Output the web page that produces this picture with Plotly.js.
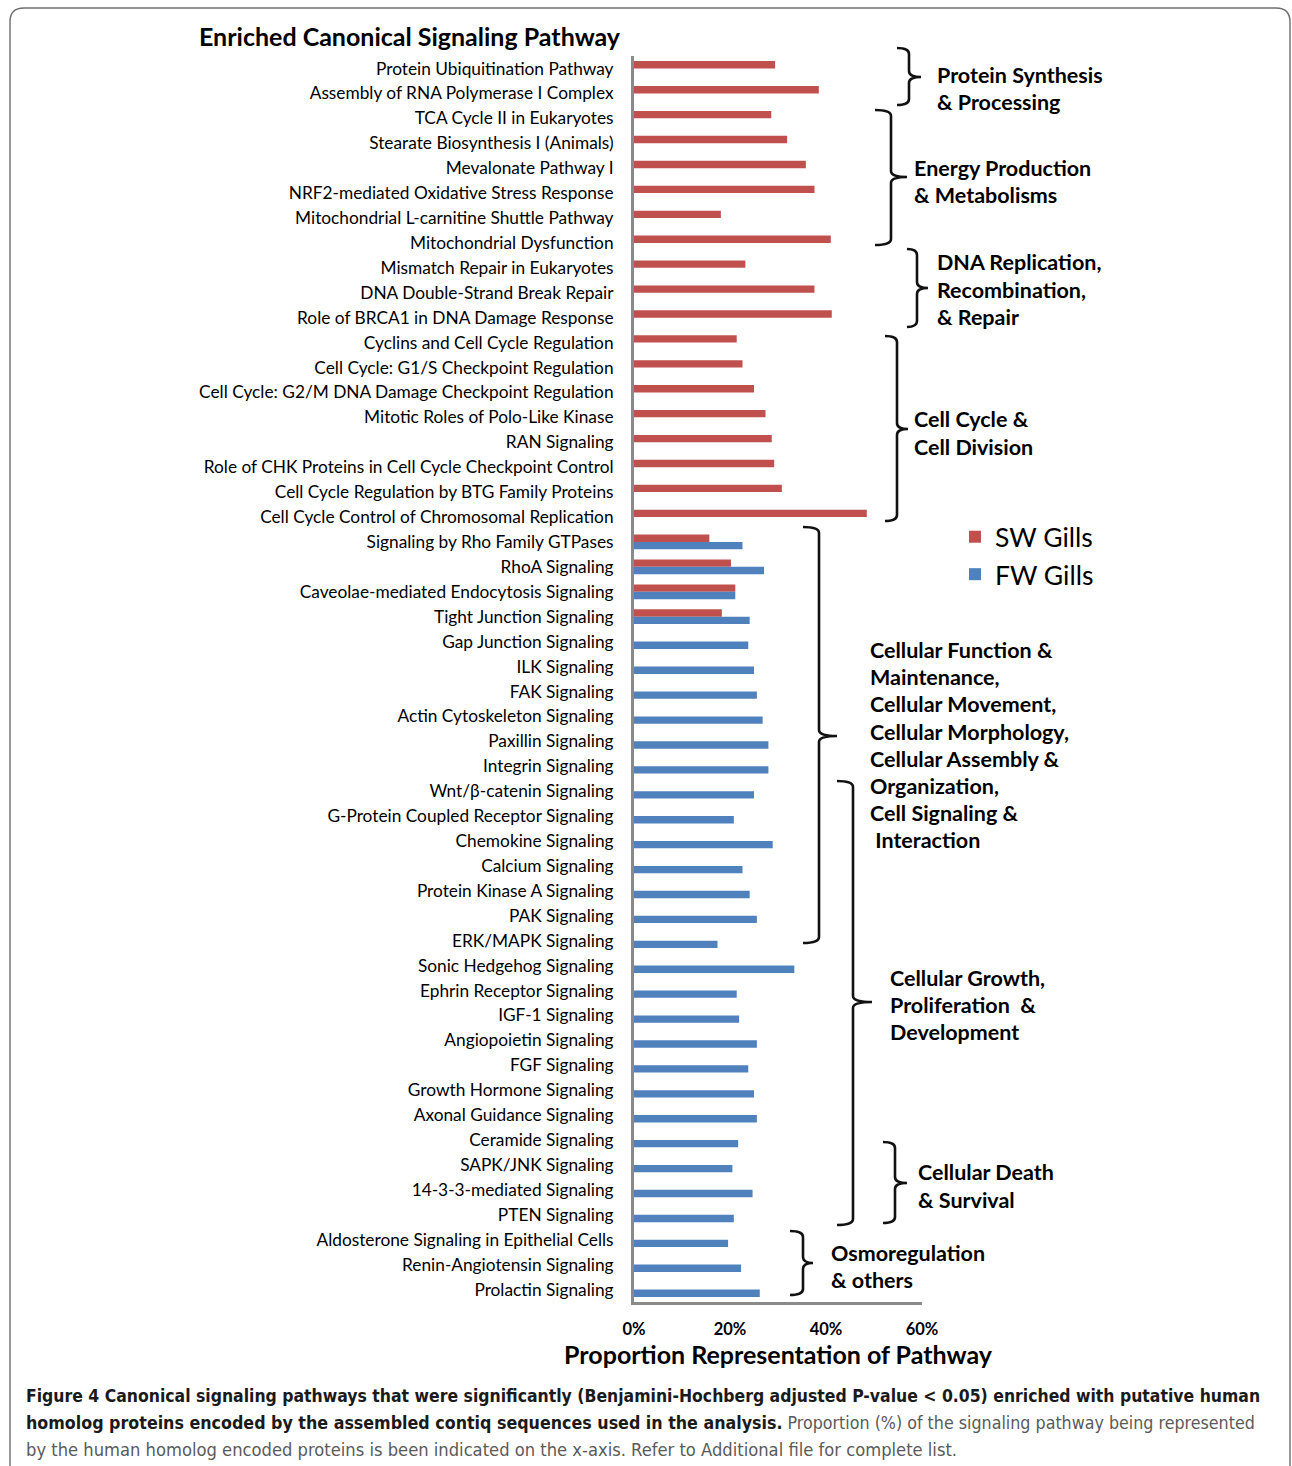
<!DOCTYPE html>
<html>
<head>
<meta charset="utf-8">
<script src="https://cdn.plot.ly/plotly-3.0.1.min.js"></script>
<style>
html,body{margin:0;padding:0;background:#fff;}
#chart{width:1292px;height:1466px;}
</style>
</head>
<body>
<div id="chart"></div>
<script>
// ---------------- DATA ----------------
const pathways = [
  "Protein Ubiquitination Pathway",
  "Assembly of RNA Polymerase I Complex",
  "TCA Cycle II in Eukaryotes",
  "Stearate Biosynthesis I (Animals)",
  "Mevalonate Pathway I",
  "NRF2-mediated Oxidative Stress Response",
  "Mitochondrial L-carnitine Shuttle Pathway",
  "Mitochondrial Dysfunction",
  "Mismatch Repair in Eukaryotes",
  "DNA Double-Strand Break Repair",
  "Role of BRCA1 in DNA Damage Response",
  "Cyclins and Cell Cycle Regulation",
  "Cell Cycle: G1/S Checkpoint Regulation",
  "Cell Cycle: G2/M DNA Damage Checkpoint Regulation",
  "Mitotic Roles of Polo-Like Kinase",
  "RAN Signaling",
  "Role of CHK Proteins in Cell Cycle Checkpoint Control",
  "Cell Cycle Regulation by BTG Family Proteins",
  "Cell Cycle Control of Chromosomal Replication",
  "Signaling by Rho Family GTPases",
  "RhoA Signaling",
  "Caveolae-mediated Endocytosis Signaling",
  "Tight Junction Signaling",
  "Gap Junction Signaling",
  "ILK Signaling",
  "FAK Signaling",
  "Actin Cytoskeleton Signaling",
  "Paxillin Signaling",
  "Integrin Signaling",
  "Wnt/β-catenin Signaling",
  "G-Protein Coupled Receptor Signaling",
  "Chemokine Signaling",
  "Calcium Signaling",
  "Protein Kinase A Signaling",
  "PAK Signaling",
  "ERK/MAPK Signaling",
  "Sonic Hedgehog Signaling",
  "Ephrin Receptor Signaling",
  "IGF-1 Signaling",
  "Angiopoietin Signaling",
  "FGF Signaling",
  "Growth Hormone Signaling",
  "Axonal Guidance Signaling",
  "Ceramide Signaling",
  "SAPK/JNK Signaling",
  "14-3-3-mediated Signaling",
  "PTEN Signaling",
  "Aldosterone Signaling in Epithelial Cells",
  "Renin-Angiotensin Signaling",
  "Prolactin Signaling"
];

// SW Gills (%), null where no bar
const swGills = [
  29.4, 38.5, 28.6, 31.9, 35.8, 37.6, 18.1, 41.0, 23.2, 37.6,
  41.2, 21.4, 22.6, 25.0, 27.4, 28.7, 29.2, 30.8, 48.5, 15.7,
  20.2, 21.1, 18.3, null, null, null, null, null, null, null,
  null, null, null, null, null, null, null, null, null, null,
  null, null, null, null, null, null, null, null, null, null
];

// FW Gills (%), null where no bar
const fwGills = [
  null, null, null, null, null, null, null, null, null, null,
  null, null, null, null, null, null, null, null, null, 22.6,
  27.1, 21.1, 24.1, 23.8, 25.0, 25.6, 26.8, 28.0, 28.0, 25.0,
  20.8, 28.9, 22.6, 24.1, 25.6, 17.4, 33.4, 21.4, 21.9, 25.6,
  23.8, 25.0, 25.6, 21.7, 20.5, 24.7, 20.8, 19.6, 22.3, 26.2
];

const seriesNames = ["SW Gills", "FW Gills"];
const xTickValues = [0, 20, 40, 60];
const xTickLabels = ["0%", "20%", "40%", "60%"];

const groupLabels = [
  ["Protein Synthesis", "& Processing"],
  ["Energy Production", "& Metabolisms"],
  ["DNA Replication,", "Recombination,", "& Repair"],
  ["Cell Cycle &", "Cell Division"],
  ["Cellular Function &", "Maintenance,", "Cellular Movement,", "Cellular Morphology,",
   "Cellular Assembly &", "Organization,", "Cell Signaling &", " Interaction"],
  ["Cellular Growth,", "Proliferation  &", "Development"],
  ["Cellular Death", "& Survival"],
  ["Osmoregulation", "& others"]
];

// ---------------- LAYOUT HELPERS (pixel -> paper) ----------------
const L = 634, R = 922, T = 56, B = 1302;
const W = 1292, H = 1466;
const PX = p => (p - L) / (R - L);
const PY = p => (B - p) / (B - T);

// brace geometry (pixels): [hookX, vertX, tipX, top, tipY, bottom]
const braces = [
  [897, 909, 921, 48, 77, 105],
  [875, 891, 907, 110, 177, 245],
  [907, 917, 928, 249, 288, 327],
  [885, 897, 908, 336, 429, 521],
  [803, 819, 837, 527, 736, 943],
  [837, 853, 872, 781, 1002, 1225],
  [883, 895, 907, 1142, 1183, 1223],
  [790, 803, 813, 1231, 1263, 1295]
];
// label placement (pixels): [x, first line y, line step]
const labelPos = [
  [935, 75, 27],
  [912, 168, 27],
  [935, 262, 27.5],
  [912, 419, 27.5],
  [868, 650, 27.2],
  [888, 978, 27],
  [916, 1172, 27.5],
  [829, 1253, 27]
];

function bracePath(b) {
  const [xl, xv, xt, yt, ym, yb] = b;
  const r = 6;
  const p = (x, y) => PX(x).toFixed(5) + "," + PY(y).toFixed(5);
  return "M" + p(xl, yt) +
    " Q" + p(xv, yt) + " " + p(xv, yt + r) +
    " L" + p(xv, ym - r) +
    " Q" + p(xv, ym) + " " + p(xt, ym) +
    " Q" + p(xv, ym) + " " + p(xv, ym + r) +
    " L" + p(xv, yb - r) +
    " Q" + p(xv, yb) + " " + p(xl, yb);
}

const FONT = "Lato, 'Open Sans', sans-serif";
const NARROW = "'Liberation Sans Narrow', 'DejaVu Sans Condensed', 'Roboto Condensed', sans-serif";

const shapes = braces.map(b => ({
  type: "path", xref: "paper", yref: "paper", path: bracePath(b),
  line: {color: "#111", width: 2.6}
}));

// outer figure frame
shapes.push({
  type: "path", xref: "paper", yref: "paper",
  path: "M" + PX(10) + "," + PY(1475) + " L" + PX(10) + "," + PY(22) +
        " Q" + PX(10) + "," + PY(8) + " " + PX(24) + "," + PY(8) +
        " L" + PX(1276) + "," + PY(8) +
        " Q" + PX(1290) + "," + PY(8) + " " + PX(1290) + "," + PY(22) +
        " L" + PX(1290) + "," + PY(1475),
  line: {color: "#6d6d6d", width: 1.4}
});

const annotations = [];
groupLabels.forEach((lines, gi) => {
  const [x, y0, step] = labelPos[gi];
  lines.forEach((t, li) => {
    annotations.push({
      xref: "paper", yref: "paper", x: PX(x), y: PY(y0 + li * step),
      xanchor: "left", yanchor: "middle", showarrow: false, text: t,
      font: {family: FONT, size: 21.5, color: "#000", weight: 700}
    });
  });
});

// chart title
annotations.push({
  xref: "paper", yref: "paper", x: PX(197), y: PY(36),
  xanchor: "left", yanchor: "middle", showarrow: false,
  text: "Enriched Canonical Signaling Pathway",
  font: {family: FONT, size: 25, color: "#000", weight: 700}
});

// caption
const capColor = "#5a5a5a";
annotations.push({
  xref: "paper", yref: "paper", x: PX(24), y: PY(1396),
  xanchor: "left", yanchor: "middle", showarrow: false,
  text: "<b>Figure 4 Canonical signaling pathways that were significantly (Benjamini-Hochberg adjusted P-value &lt; 0.05) enriched with putative human</b>",
  font: {family: NARROW, size: 17.45, color: "#1a1a1a"}
});
annotations.push({
  xref: "paper", yref: "paper", x: PX(24), y: PY(1423),
  xanchor: "left", yanchor: "middle", showarrow: false,
  text: "<b>homolog proteins encoded by the assembled contiq sequences used in the analysis.</b> <span style=\"color:" + capColor + "\">Proportion (%) of the signaling pathway being represented</span>",
  font: {family: NARROW, size: 17.7, color: "#1a1a1a"}
});
annotations.push({
  xref: "paper", yref: "paper", x: PX(24), y: PY(1449),
  xanchor: "left", yanchor: "middle", showarrow: false,
  text: "by the human homolog encoded proteins is been indicated on the x-axis. Refer to Additional file for complete list.",
  font: {family: NARROW, size: 18.2, color: capColor}
});

const traces = [
  {type: "bar", orientation: "h", name: seriesNames[0], y: pathways, x: swGills,
   legendgroup: "sw", marker: {color: "#C0504D"}, hoverinfo: "y+x"},
  {type: "bar", orientation: "h", name: seriesNames[1], y: pathways, x: fwGills,
   legendgroup: "fw", marker: {color: "#4F81BD"}, hoverinfo: "y+x"}
];

const layout = {
  width: W, height: H,
  margin: {l: L, r: W - R, t: T, b: H - B, pad: 0},
  paper_bgcolor: "#fff", plot_bgcolor: "#fff",
  barmode: "group", bargap: 0.41, bargroupgap: 0,
  font: {family: FONT, color: "#000"},
  showlegend: true,
  legend: {
    x: PX(955), y: PY(513), xanchor: "left", yanchor: "top",
    font: {family: FONT, size: 26.5, color: "#000"},
    traceorder: "normal", itemwidth: 30, bgcolor: "rgba(0,0,0,0)",
    tracegroupgap: 7
  },
  xaxis: {
    range: [0, 60], tickvals: xTickValues, ticktext: xTickLabels,
    showgrid: false, zeroline: false, showline: true,
    linecolor: "#8a8a8a", linewidth: 3, ticks: "",
    ticklabelstandoff: 10,
    tickfont: {family: FONT, size: 16.5, color: "#000", weight: 700},
    title: {text: "Proportion Representation of Pathway", standoff: 6,
            font: {family: FONT, size: 25, color: "#000", weight: 700}},
    automargin: false, fixedrange: true
  },
  yaxis: {
    type: "category", autorange: "reversed",
    showgrid: false, zeroline: false, showline: true,
    linecolor: "#8a8a8a", linewidth: 3, ticks: "",
    ticklabelstandoff: 14,
    tickfont: {family: FONT, size: 17.3, color: "#000"},
    automargin: false, fixedrange: true
  },
  shapes: shapes,
  annotations: annotations
};

Plotly.newPlot("chart", traces, layout, {displayModeBar: false, staticPlot: true});
</script>
</body>
</html>
